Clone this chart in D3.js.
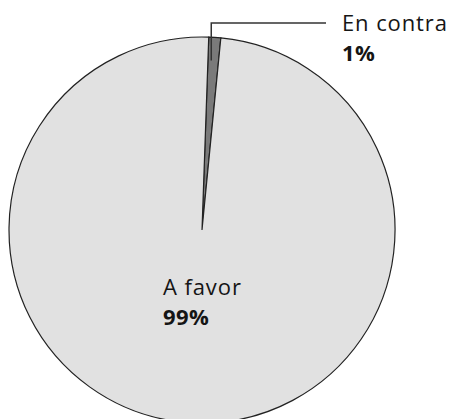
<!DOCTYPE html>
<html>
<head>
<meta charset="utf-8">
<script src="https://d3js.org/d3.v7.min.js"></script>
<style>
  body { margin: 0; background: #fff; }
  .lbl { font: 22px "Open Sans", sans-serif; fill: #151515; letter-spacing: 0.9px; }
  .pct { font-weight: bold; letter-spacing: 0.4px; }
</style>
</head>
<body>
<svg width="452" height="419" id="chart"></svg>
<script>
  var labels = ["En contra", "A favor"]
  var values = [1, 99]
  var pctText = ["1%", "99%"]
  var colors = ["#7a7a7a", "#e1e1e1"]

  var svg = d3.select('#chart')
  var cx = 202, cy = 230, r = 193
  var start = 2 * Math.PI / 180 // pie is turned a little clockwise

  var pie = d3.pie().sort(null)
    .startAngle(start)
    .endAngle(start + 2 * Math.PI)
  var arcs = pie(values)
  var arc = d3.arc().innerRadius(0).outerRadius(r)

  var g = svg.append('g').attr('transform', 'translate(' + cx + ',' + cy + ')')

  g.selectAll('path')
    .data(arcs)
    .enter().append('path')
    .attr('d', arc)
    .attr('fill', function(d, i) { return colors[i] })
    .attr('stroke', '#222')
    .attr('stroke-width', 1.2)

  // leader line for the small slice
  var small = arcs[0]
  var mid = (small.startAngle + small.endAngle) / 2
  var lx = Math.sin(mid) * r * 0.88 - 2
  var ly = -Math.cos(mid) * r * 0.88
  var topY = 23 - cy
  g.append('path')
    .attr('d', 'M' + lx + ',' + ly + 'V' + topY + 'H' + (326 - cx))
    .attr('fill', 'none')
    .attr('stroke', '#333')
    .attr('stroke-width', 1.5)

  // labels
  var pos = [[342 - cx, 31 - cy], [163 - cx, 295 - cy]]
  labels.forEach(function(l, i) {
    var t = g.append('text').attr('class', 'lbl')
      .attr('x', pos[i][0]).attr('y', pos[i][1])
    t.append('tspan').text(l)
    t.append('tspan').attr('class', 'pct')
      .attr('x', pos[i][0]).attr('dy', 30).text(pctText[i])
  })
</script>
</body>
</html>
